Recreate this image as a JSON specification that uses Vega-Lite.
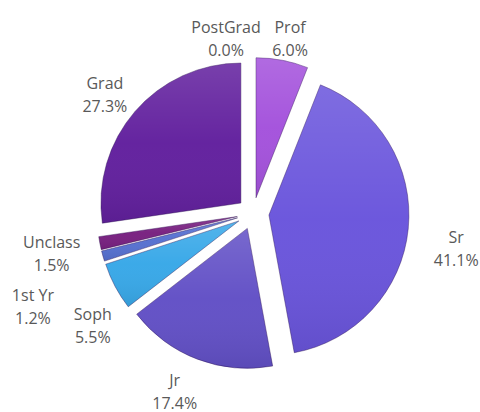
{
  "$schema": "https://vega.github.io/schema/vega-lite/v6.json",
  "width": 480,
  "height": 412,
  "autosize": {"type": "fit", "contains": "padding"},
  "padding": 0,
  "background": "white",
  "config": {"view": {"stroke": null}},
  "data": {
    "values": [
      {"cat": "Prof", "pct": 6.0, "idx": 1},
      {"cat": "Sr", "pct": 41.1, "idx": 2},
      {"cat": "Jr", "pct": 17.4, "idx": 3},
      {"cat": "Soph", "pct": 5.5, "idx": 4},
      {"cat": "1st Yr", "pct": 1.2, "idx": 5},
      {"cat": "Unclass", "pct": 1.5, "idx": 6},
      {"cat": "Grad", "pct": 27.3, "idx": 7},
      {"cat": "PostGrad", "pct": 0.0, "idx": 8}
    ]
  },
  "transform": [
    {"window": [{"op": "sum", "field": "pct", "as": "cum"}], "sort": [{"field": "idx"}], "frame": [null, 0]},
    {"calculate": "datum.cum - datum.pct", "as": "start"},
    {"calculate": "datum.cum - datum.pct / 2", "as": "mid"},
    {"calculate": "sin(2 * PI * datum.mid / 100)", "as": "ex"},
    {"calculate": "cos(2 * PI * datum.mid / 100)", "as": "ey"},
    {"calculate": "datum.cat + '\\n' + format(datum.pct, '.1f') + '%'", "as": "label"}
  ],
  "layer": [
    {
      "transform": [{"filter": "datum.pct > 0"}],
      "mark": {"type": "arc", "radius": 140, "stroke": "#2a1050", "strokeOpacity": 0.4, "strokeWidth": 1},
      "encoding": {
        "x": {"field": "ex", "type": "quantitative", "stack": null, "scale": {"domain": [-15.8125, 14.1875], "nice": false, "zero": false}, "axis": null},
        "y": {"field": "ey", "type": "quantitative", "stack": null, "scale": {"domain": [-12.375, 13.375], "nice": false, "zero": false}, "axis": null},
        "theta": {"field": "start", "type": "quantitative", "stack": null, "scale": {"domain": [0, 100], "range": [0, 6.283185307]}},
        "theta2": {"field": "cum"},
        "color": {
          "field": "cat", "type": "nominal", "legend": null,
          "scale": {
            "domain": ["Prof", "Sr", "Jr", "Soph", "1st Yr", "Unclass", "Grad", "PostGrad"],
            "range": ["#a452dc", "#6a55dc", "#6250c6", "#38a8e8", "#5670d0", "#782080", "#62209e", "#8a5cc8"]
          }
        }
      }
    },
    {
      "transform": [{"filter": "datum.pct > 0"}],
      "mark": {
        "type": "arc", "radius": 140,
        "fill": {"gradient": "linear", "x1": 0, "y1": 0, "x2": 0, "y2": 1, "stops": [
          {"offset": 0, "color": "rgba(255,255,255,0.14)"},
          {"offset": 0.5, "color": "rgba(255,255,255,0.02)"},
          {"offset": 1, "color": "rgba(0,0,0,0.08)"}
        ]}
      },
      "encoding": {
        "x": {"field": "ex", "type": "quantitative", "stack": null},
        "y": {"field": "ey", "type": "quantitative", "stack": null},
        "theta": {"field": "start", "type": "quantitative", "stack": null},
        "theta2": {"field": "cum"}
      }
    },
    {
      "transform": [{"filter": "datum.cat == 'Prof'"}],
      "mark": {"type": "text", "radius": 186, "thetaOffset": 0.012, "dy": -3, "font": "Open Sans", "fontSize": 16, "color": "#595959", "lineBreak": "\n", "lineHeight": 23, "align": "center", "baseline": "middle"},
      "encoding": {
        "x": {"datum": 0, "type": "quantitative"},
        "y": {"datum": 0, "type": "quantitative"},
        "theta": {"field": "mid", "type": "quantitative", "stack": null},
        "text": {"field": "label"}
      }
    },
    {
      "transform": [{"filter": "datum.cat == 'Sr'"}],
      "mark": {"type": "text", "radius": 205, "thetaOffset": 0.035, "dy": -3, "font": "Open Sans", "fontSize": 16, "color": "#595959", "lineBreak": "\n", "lineHeight": 23, "align": "center", "baseline": "middle"},
      "encoding": {
        "x": {"datum": 0, "type": "quantitative"},
        "y": {"datum": 0, "type": "quantitative"},
        "theta": {"field": "mid", "type": "quantitative", "stack": null},
        "text": {"field": "label"}
      }
    },
    {
      "transform": [{"filter": "datum.cat == 'Jr'"}],
      "mark": {"type": "text", "radius": 191, "thetaOffset": 0.058, "dy": -7, "font": "Open Sans", "fontSize": 16, "color": "#595959", "lineBreak": "\n", "lineHeight": 23, "align": "center", "baseline": "middle"},
      "encoding": {
        "x": {"datum": 0, "type": "quantitative"},
        "y": {"datum": 0, "type": "quantitative"},
        "theta": {"field": "mid", "type": "quantitative", "stack": null},
        "text": {"field": "label"}
      }
    },
    {
      "transform": [{"filter": "datum.cat == 'Soph'"}],
      "mark": {"type": "text", "radius": 191, "thetaOffset": -0.089, "dy": -3, "font": "Open Sans", "fontSize": 16, "color": "#595959", "lineBreak": "\n", "lineHeight": 23, "align": "center", "baseline": "middle"},
      "encoding": {
        "x": {"datum": 0, "type": "quantitative"},
        "y": {"datum": 0, "type": "quantitative"},
        "theta": {"field": "mid", "type": "quantitative", "stack": null},
        "text": {"field": "label"}
      }
    },
    {
      "transform": [{"filter": "datum.cat == '1st Yr'"}],
      "mark": {"type": "text", "radius": 236, "thetaOffset": -0.093, "dy": -3, "font": "Open Sans", "fontSize": 16, "color": "#595959", "lineBreak": "\n", "lineHeight": 23, "align": "center", "baseline": "middle"},
      "encoding": {
        "x": {"datum": 0, "type": "quantitative"},
        "y": {"datum": 0, "type": "quantitative"},
        "theta": {"field": "mid", "type": "quantitative", "stack": null},
        "text": {"field": "label"}
      }
    },
    {
      "transform": [{"filter": "datum.cat == 'Unclass'"}],
      "mark": {"type": "text", "radius": 204, "thetaOffset": 0.03, "dy": -3, "font": "Open Sans", "fontSize": 16, "color": "#595959", "lineBreak": "\n", "lineHeight": 23, "align": "center", "baseline": "middle"},
      "encoding": {
        "x": {"datum": 0, "type": "quantitative"},
        "y": {"datum": 0, "type": "quantitative"},
        "theta": {"field": "mid", "type": "quantitative", "stack": null},
        "text": {"field": "label"}
      }
    },
    {
      "transform": [{"filter": "datum.cat == 'Grad'"}],
      "mark": {"type": "text", "radius": 195, "thetaOffset": -0.005, "dy": -3, "font": "Open Sans", "fontSize": 16, "color": "#595959", "lineBreak": "\n", "lineHeight": 23, "align": "center", "baseline": "middle"},
      "encoding": {
        "x": {"datum": 0, "type": "quantitative"},
        "y": {"datum": 0, "type": "quantitative"},
        "theta": {"field": "mid", "type": "quantitative", "stack": null},
        "text": {"field": "label"}
      }
    },
    {
      "transform": [{"filter": "datum.cat == 'PostGrad'"}],
      "mark": {"type": "text", "radius": 184, "thetaOffset": -0.147, "dy": -3, "font": "Open Sans", "fontSize": 16, "color": "#595959", "lineBreak": "\n", "lineHeight": 23, "align": "center", "baseline": "middle"},
      "encoding": {
        "x": {"datum": 0, "type": "quantitative"},
        "y": {"datum": 0, "type": "quantitative"},
        "theta": {"field": "mid", "type": "quantitative", "stack": null},
        "text": {"field": "label"}
      }
    }
  ]
}
